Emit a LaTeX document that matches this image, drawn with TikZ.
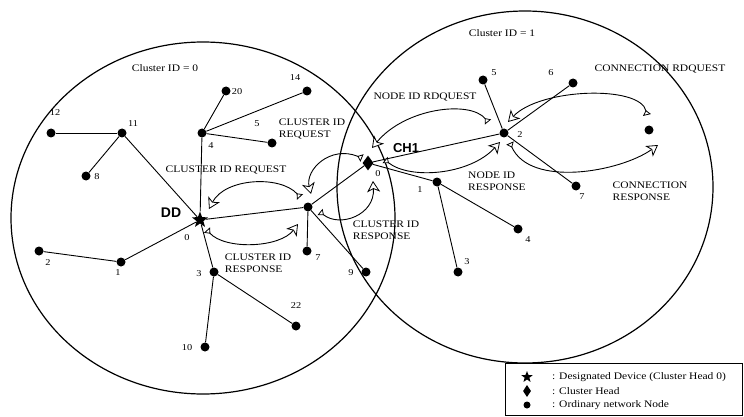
\documentclass[tikz,border=0pt]{standalone}
\usepackage{fontspec}
\setmainfont{Liberation Serif}[FakeStretch=1.15]
\newfontfamily\bsans{Liberation Sans}
\usetikzlibrary{shapes.geometric,arrows.meta}
\tikzset{
  dot/.style={circle,fill=black,inner sep=0pt,minimum size=9pt},
  ddstar/.style={star,star points=5,star point ratio=2.4,fill=black,inner sep=0pt,minimum size=17pt},
  chd/.style={diamond,fill=black,inner sep=0pt,minimum width=11pt,minimum height=15pt},
  num/.style={font=\fontsize{9}{10}\selectfont,inner sep=0pt},
  msg/.style={font=\fontsize{10}{12.5}\selectfont,align=left,inner sep=0pt},
  big/.style={font=\bsans\bfseries\fontsize{14}{14}\selectfont,inner sep=0pt},
  cluster/.style={draw,line width=1.2pt},
  link/.style={line width=0.9pt},
  msgarc/.style={line width=0.9pt,
    {Triangle[reversed,length=5pt,width=8pt,fill=white,line width=0.8pt]}-{Stealth[length=11pt,width=13pt,inset=3pt,fill=white,line width=0.8pt]}},
}
\begin{document}
\begin{tikzpicture}[x=1pt,y=-1pt]
\useasboundingbox (0,0) rectangle (744,417);
% clusters
\draw[cluster] (203,218) ellipse [x radius=192, y radius=176];
\draw[cluster] (525,187) ellipse [x radius=188, y radius=176];
% nodes
\node[ddstar] (dd) at (200,220) {};
\node[chd] (ch) at (368,163) {};
\node[dot] (r) at (308,207) {};
\node[dot] (n4) at (202,133) {};
\node[dot] (n20) at (226,91) {};
\node[dot] (n14) at (307,91) {};
\node[dot] (n5) at (272,143) {};
\node[dot] (n11) at (122,133) {};
\node[dot] (n12) at (51,133) {};
\node[dot] (n8) at (86,176) {};
\node[dot] (n1) at (121,262) {};
\node[dot] (n2) at (39,251) {};
\node[dot] (n3) at (214,272) {};
\node[dot] (n22) at (296,326) {};
\node[dot] (n10) at (205,347) {};
\node[dot] (n7) at (307,251) {};
\node[dot] (n9) at (366,272) {};
\node[dot] (m2) at (504,133) {};
\node[dot] (m5) at (483,80) {};
\node[dot] (m6) at (573,83) {};
\node[dot] (m7) at (576,186) {};
\node[dot] (m8) at (649,130) {};
\node[dot] (m1) at (437,182) {};
\node[dot] (m4) at (518,229) {};
\node[dot] (m3) at (458,272) {};
% links
\draw[link] (dd) -- (n4);
\draw[link] (n4) -- (n20);
\draw[link] (n4) -- (n14);
\draw[link] (n4) -- (n5);
\draw[link] (dd) -- (n11);
\draw[link] (n11) -- (n12);
\draw[link] (n11) -- (n8);
\draw[link] (dd) -- (n1);
\draw[link] (n1) -- (n2);
\draw[link] (dd) -- (n3);
\draw[link] (n3) -- (n10);
\draw[link] (n3) -- (n22);
\draw[link] (dd) -- (r);
\draw[link] (r) -- (n7);
\draw[link] (r) -- (n9);
\draw[link] (r) -- (ch);
\draw[link] (ch) -- (m2);
\draw[link] (m2) -- (m5);
\draw[link] (m2) -- (m6);
\draw[link] (m2) -- (m7);
\draw[link] (ch) -- (m1);
\draw[link] (m1) -- (m4);
\draw[link] (m1) -- (m3);
% message arrows
\coordinate (a1s) at (209,209); \coordinate (a1e) at (300,197);
\draw[msgarc] (a1e) .. controls (280,175) and (225,178) .. (a1s);
\coordinate (a2s) at (207,230); \coordinate (a2e) at (298,224);
\draw[msgarc] (a2s) .. controls (225,250) and (280,248) .. (a2e);
\coordinate (b1s) at (362,158); \coordinate (b1e) at (311,194);
\draw[msgarc] (b1s) .. controls (330,145) and (305,170) .. (b1e);
\coordinate (b2s) at (320,212); \coordinate (b2e) at (373,181);
\draw[msgarc] (b2s) .. controls (340,228) and (375,215) .. (b2e);
\coordinate (c1s) at (372,148); \coordinate (c1e) at (488,122);
\draw[msgarc] (c1e) .. controls (470,100) and (405,108) .. (c1s);
\coordinate (c2s) at (385,160); \coordinate (c2e) at (500,142);
\draw[msgarc] (c2s) .. controls (410,180) and (470,175) .. (c2e);
\coordinate (d1s) at (508,122); \coordinate (d1e) at (647,115);
\draw[msgarc] (d1e) .. controls (640,85) and (540,88) .. (d1s);
\coordinate (d2s) at (510,143); \coordinate (d2e) at (658,145);
\draw[msgarc] (d2s) .. controls (530,188) and (620,172) .. (d2e);
% node numbers
\node[num] (l12) at (55,113) {12};
\node[num] (l11) at (133,124) {11};
\node[num] (l8) at (97,177) {8};
\node[num] (l20) at (237,92) {20};
\node[num] (l14) at (295,78) {14};
\node[num] (l5) at (257,124) {5};
\node[num] (l4) at (211,146) {4};
\node[num] (l0) at (187,238) {0};
\node[num] (l2) at (48,263) {2};
\node[num] (l1) at (118,273) {1};
\node[num] (l3) at (199,274) {3};
\node[num] (l22) at (296,306) {22};
\node[num] (l10) at (187,348) {10};
\node[num] (l7) at (318,258) {7};
\node[num] (l9) at (351,273) {9};
\node[num] (lc0) at (378,174) {0};
\node[num] (k5) at (494,73) {5};
\node[num] (k6) at (551,73) {6};
\node[num] (k2) at (520,135) {2};
\node[num] (k7) at (582,197) {7};
\node[num] (k1) at (420,190) {1};
\node[num] (k4) at (528,240) {4};
\node[num] (k3) at (467,262) {3};
% big labels
\node[big] (tdd) at (171,213) {DD};
\node[big,font=\bsans\bfseries\fontsize{13}{13}\selectfont] (tch) at (406,148) {CH1};
% cluster titles
\node[msg] (cid0) at (165,68) {Cluster ID = 0};
\node[msg] (cid1) at (502,33) {Cluster ID = 1};
% message labels
\node[msg] (t1) at (226,170) {CLUSTER ID REQUEST};
\node[msg] (t2) at (312,129) {CLUSTER ID\\REQUEST};
\node[msg] (t3) at (258,263) {CLUSTER ID\\RESPONSE};
\node[msg] (t4) at (386,230) {CLUSTER ID\\RESPONSE};
\node[msg] (t5) at (425,97) {NODE ID RDQUEST};
\node[msg] (t6) at (497,181) {NODE ID\\RESPONSE};
\node[msg] (t7) at (660,69) {CONNECTION RDQUEST};
\node[msg] (t8) at (650,191) {CONNECTION\\RESPONSE};
% legend
\draw[fill=white,line width=0.8pt] (505,363) rectangle (742,415);
\node[star,star points=5,star point ratio=2.4,fill=black,inner sep=0pt,minimum size=12pt] (g1) at (527,377) {};
\node[diamond,fill=black,inner sep=0pt,minimum width=8pt,minimum height=12pt] (g2) at (527,391) {};
\node[circle,fill=black,inner sep=0pt,minimum size=7pt] (g3) at (527,405) {};
\node[msg,anchor=west] (e1) at (552,377) {: Designated Device (Cluster Head 0)};
\node[msg,anchor=west] (e2) at (552,391) {: Cluster Head};
\node[msg,anchor=west] (e3) at (552,405) {: Ordinary network Node};
\end{tikzpicture}
\end{document}
